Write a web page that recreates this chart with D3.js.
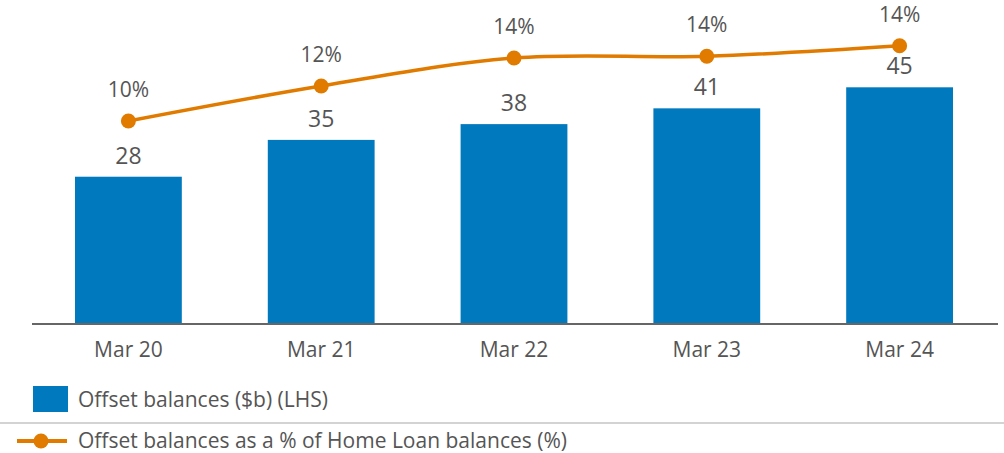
<!DOCTYPE html>
<html>
<head>
<meta charset="utf-8">
<script src="https://cdn.jsdelivr.net/npm/d3@7"></script>
<style>
  body { margin: 0; background: #fff; }
  svg text { font-family: "Open Sans", sans-serif; fill: #555; }
</style>
</head>
<body>
<div id="chart"></div>
<script>
// data
const periods = ["Mar 20", "Mar 21", "Mar 22", "Mar 23", "Mar 24"];
const offsetBalances = [28, 35, 38, 41, 45];
const offsetPct = [10.0, 12.0, 13.6, 13.7, 14.3];
const legendLabels = ["Offset balances ($b) (LHS)", "Offset balances as a % of Home Loan balances (%)"];

const width = 1004;
const height = 453;
const baseY = 324;
const blue = "#0079be";
const orange = "#e07b00";

const svg = d3.select("#chart")
    .append("svg")
    .attr("width", width)
    .attr("height", height);

const x = d3.scaleBand()
    .domain(periods)
    .range([32, 996])
    .paddingInner(0.446)
    .paddingOuter(0.223);

// left axis ($b)
const y = d3.scaleLinear().domain([0, 60]).range([baseY, baseY - 60 * 5.26]);
// right axis (%)
const y2 = d3.scaleLinear().domain([0, 16]).range([296, 296 - 16 * 17.5]);

// bars
svg.selectAll(".bar")
    .data(offsetBalances)
    .enter()
    .append("rect")
    .attr("class", "bar")
    .attr("x", (d, i) => x(periods[i]))
    .attr("y", d => y(d))
    .attr("width", x.bandwidth())
    .attr("height", d => y(0) - y(d))
    .attr("fill", blue);

// bar labels
svg.selectAll(".bar-label")
    .data(offsetBalances)
    .enter()
    .append("text")
    .attr("class", "bar-label")
    .attr("x", (d, i) => x(periods[i]) + x.bandwidth() / 2)
    .attr("y", d => y(d) - 13)
    .attr("text-anchor", "middle")
    .style("font-size", "23px")
    .text(d => d);

// x axis
const xAxis = svg.append("g")
    .attr("transform", `translate(0,${baseY})`)
    .call(d3.axisBottom(x).tickSize(0).tickPadding(18));
xAxis.select(".domain").attr("d", "M32,0H998").attr("stroke", "#666").attr("stroke-width", 2);
xAxis.selectAll("text")
    .style("font-family", "'Open Sans', sans-serif")
    .style("font-size", "21px")
    .style("fill", "#555");

// line
const line = d3.line()
    .x((d, i) => x(periods[i]) + x.bandwidth() / 2)
    .y(d => y2(d))
    .curve(d3.curveCatmullRom.alpha(0.5));

svg.append("path")
    .datum(offsetPct)
    .attr("d", line)
    .attr("fill", "none")
    .attr("stroke", orange)
    .attr("stroke-width", 3.5);

svg.selectAll(".dot")
    .data(offsetPct)
    .enter()
    .append("circle")
    .attr("cx", (d, i) => x(periods[i]) + x.bandwidth() / 2)
    .attr("cy", d => y2(d))
    .attr("r", 7.5)
    .attr("fill", orange);

svg.selectAll(".pct-label")
    .data(offsetPct)
    .enter()
    .append("text")
    .attr("class", "pct-label")
    .attr("x", (d, i) => x(periods[i]) + x.bandwidth() / 2)
    .attr("y", d => y2(d) - 24)
    .attr("text-anchor", "middle")
    .style("font-size", "21px")
    .text(d => d3.format(".0f")(d) + "%");

// legend
const legend = svg.append("g");
legend.append("rect")
    .attr("x", 33).attr("y", 386)
    .attr("width", 35).attr("height", 26)
    .attr("fill", blue);
legend.append("text")
    .attr("x", 78).attr("y", 407)
    .style("font-size", "21px")
    .text(legendLabels[0]);

legend.append("line")
    .attr("x1", 0).attr("x2", width)
    .attr("y1", 423).attr("y2", 423)
    .attr("stroke", "#c4c4c4")
    .attr("stroke-width", 1.5);

legend.append("line")
    .attr("x1", 17).attr("x2", 67)
    .attr("y1", 441).attr("y2", 441)
    .attr("stroke", orange)
    .attr("stroke-width", 4);
legend.append("circle")
    .attr("cx", 41).attr("cy", 441)
    .attr("r", 7.5)
    .attr("fill", orange);
legend.append("text")
    .attr("x", 78).attr("y", 448)
    .style("font-size", "21px")
    .text(legendLabels[1]);
</script>
</body>
</html>
